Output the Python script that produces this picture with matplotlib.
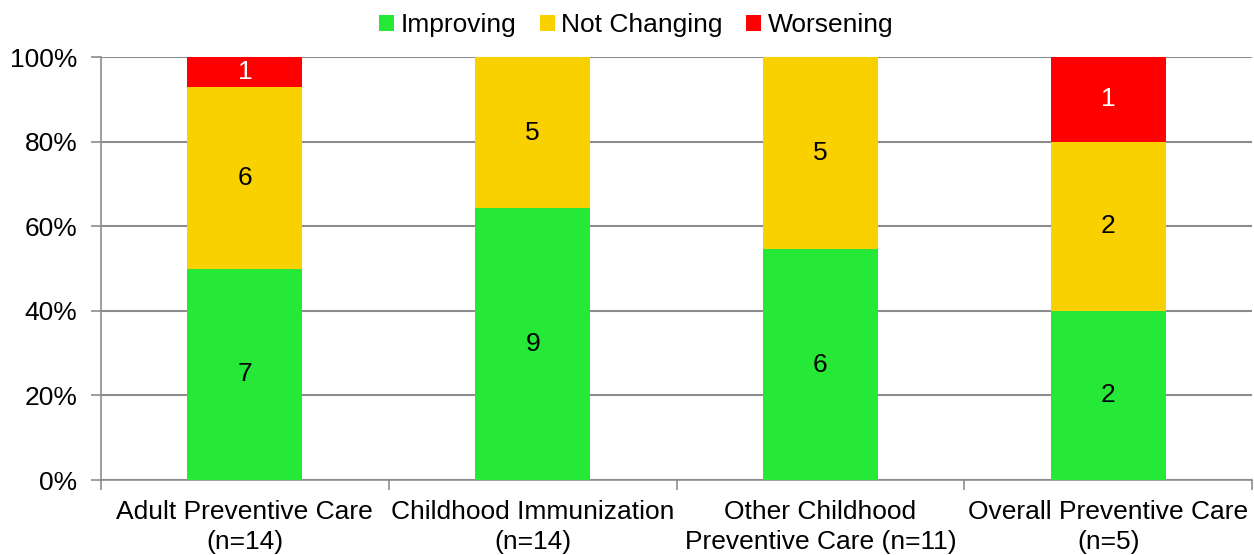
import numpy as np
import matplotlib.pyplot as plt

categories = ['Adult Preventive Care\n(n=14)', 'Childhood Immunization\n(n=14)',
              'Other Childhood\nPreventive Care (n=11)', 'Overall Preventive Care\n(n=5)']
improving = [7, 9, 6, 2]
not_changing = [6, 5, 5, 2]
worsening = [1, 0, 0, 1]

series = [('Improving', improving, '#26e836', 'black'),
          ('Not Changing', not_changing, '#f9d000', 'black'),
          ('Worsening', worsening, '#ff0000', 'white')]

plt.rcParams['font.family'] = ['Liberation Sans', 'DejaVu Sans']
fs = 19

totals = np.array(improving) + np.array(not_changing) + np.array(worsening)
x = np.arange(len(categories))

fig = plt.figure(figsize=(12.54, 5.55), dpi=100)
ax = fig.add_axes([0.0805, 0.135, 0.918, 0.762])

bottom = np.zeros(len(categories))
for name, vals, color, tcolor in series:
    share = np.array(vals) / totals * 100
    ax.bar(x, share, 0.4, bottom=bottom, color=color, label=name, zorder=3)
    for xi, v, s, b in zip(x, vals, share, bottom):
        if v > 0:
            ax.text(xi, b + s / 2, str(v), ha='center', va='center',
                    fontsize=fs, color=tcolor, zorder=4)
    bottom += share

ax.set_xlim(-0.5, len(categories) - 0.5)
ax.set_ylim(0, 100)
ax.set_yticks(range(0, 101, 20))
ax.set_yticklabels([f'{v}%' for v in range(0, 101, 20)], fontsize=fs)
ax.set_xticks(x)
ax.set_xticklabels(categories, fontsize=fs, linespacing=1.35)
ax.tick_params(axis='x', length=0, pad=14)
ax.set_xticks(np.arange(-0.5, len(categories)), minor=True)
ax.tick_params(axis='x', which='minor', length=7, color='#8c8c8c', width=1.2)
ax.tick_params(axis='y', length=7, color='#8c8c8c', width=1.2, pad=10)
ax.grid(axis='y', color='#8c8c8c', linewidth=1.5, zorder=0)

for side in ['top', 'right']:
    ax.spines[side].set_visible(False)
for side in ['left', 'bottom']:
    ax.spines[side].set_color('#8c8c8c')
    ax.spines[side].set_linewidth(1.2)

ax.legend(loc='lower center', bbox_to_anchor=(0.465, 1.0), ncol=3, frameon=False,
          fontsize=fs, handlelength=0.55, handleheight=0.55, handletextpad=0.25,
          columnspacing=0.9, borderaxespad=0.35)

fig.savefig('out.png', dpi=100)
